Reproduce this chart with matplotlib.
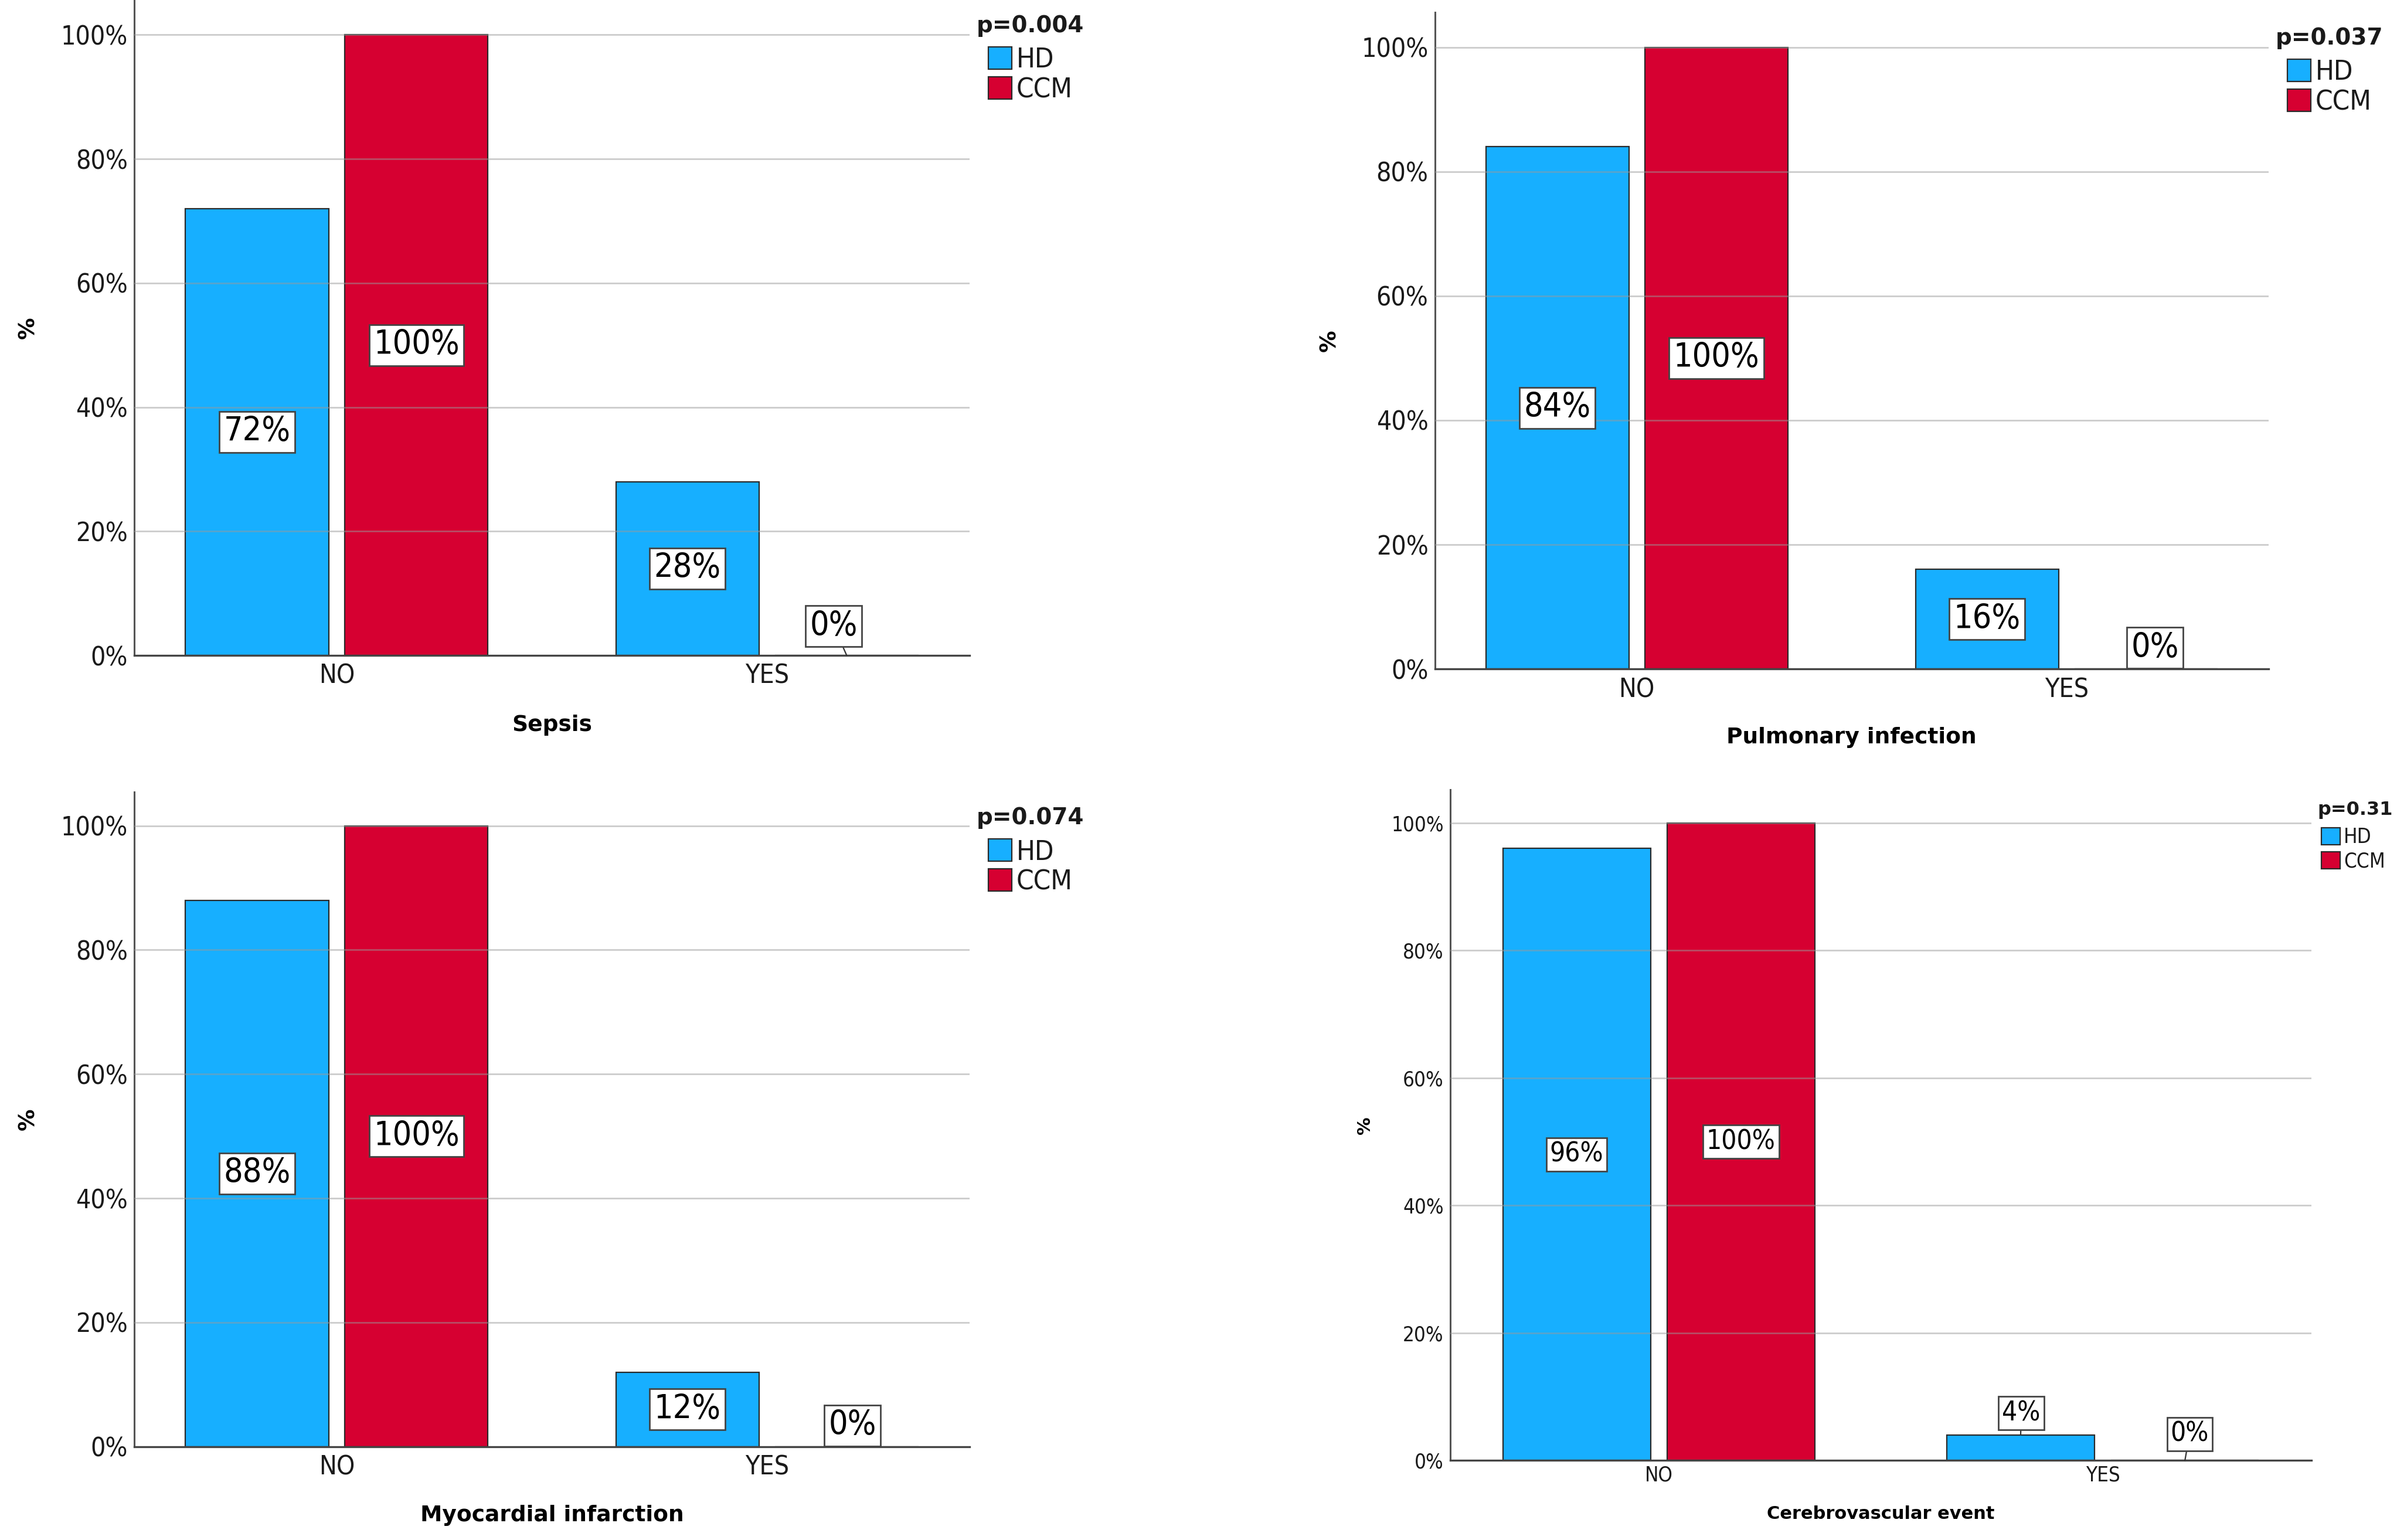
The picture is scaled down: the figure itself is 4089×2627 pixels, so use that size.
import matplotlib
matplotlib.use('Agg')
import matplotlib.pyplot as plt
import matplotlib.transforms as mtransforms
from matplotlib.patches import Patch
from matplotlib import font_manager as fm

# ---------------- data ----------------
categories = ['NO', 'YES']
groups = ['HD', 'CCM']
outcomes = ['Sepsis', 'Pulmonary infection', 'Myocardial infarction', 'Cerebrovascular event']
p_values = ['p=0.004', 'p=0.037', 'p=0.074', 'p=0.31']

hd_sepsis = [72, 28]
ccm_sepsis = [100, 0]
hd_pulmonary = [84, 16]
ccm_pulmonary = [100, 0]
hd_mi = [88, 12]
ccm_mi = [100, 0]
hd_cve = [96, 4]
ccm_cve = [100, 0]

yticks = [0, 20, 40, 60, 80, 100]
ytick_labels = ['0%', '20%', '40%', '60%', '80%', '100%']

# ---------------- fonts ----------------
def find_narrow():
    for f in fm.fontManager.ttflist:
        if f.name == 'Liberation Sans Narrow' and f.weight in (400, 'normal', 'regular') and f.style == 'normal':
            return f.fname
    for f in fm.fontManager.ttflist:
        if f.name == 'DejaVu Sans' and 'condensed' in str(f.stretch).lower() and f.style == 'normal' \
                and f.weight in (400, 'normal', 'regular', 'book'):
            return f.fname
    for f in fm.fontManager.ttflist:
        fn = f.fname.lower()
        if 'condensed' in fn and 'bold' not in fn and 'italic' not in fn and 'oblique' not in fn:
            return f.fname
    return None

NARROW_FILE = find_narrow()


def reg_font(size):
    if NARROW_FILE:
        return fm.FontProperties(fname=NARROW_FILE, size=size)
    return fm.FontProperties(family=['Roboto', 'DejaVu Sans'], size=size)


def bold_font(size):
    return fm.FontProperties(family=['DejaVu Sans'], weight='bold', size=size)


# ---------------- style ----------------
BLUE = '#17AFFF'
RED = '#D60031'
EDGE = '#2a2a2a'

W, H = 4089, 2627
fig = plt.figure(figsize=(W / 100, H / 100), dpi=100)

panels = [
    dict(hd=hd_sepsis, ccm=ccm_sepsis, rect=[0.0561, 0.5744, 0.3483, 0.4256], ytop=105.6,
         tick_fs=32, lab_fs=41, leg_fs=34, title_fs=28, axl_fs=27, xpad=10,
         small_off={('CCM', 1): (-22, 50)}, ylab_x=-0.127, xlab_y=-0.106,
         title_off=(12, -55), leg_off=(32, -80), leg_h=(0.85, 0.85), leg_sp=0.12),
    dict(hd=hd_pulmonary, ccm=ccm_pulmonary, rect=[0.5986, 0.5656, 0.3478, 0.4263], ytop=105.6,
         tick_fs=32, lab_fs=41, leg_fs=34, title_fs=28, axl_fs=27, xpad=10,
         small_off={('CCM', 1): (15, 36)}, ylab_x=-0.126, xlab_y=-0.104,
         title_off=(12, -55), leg_off=(32, -80), leg_h=(0.85, 0.85), leg_sp=0.12),
    dict(hd=hd_mi, ccm=ccm_mi, rect=[0.0561, 0.0606, 0.3483, 0.4250], ytop=105.4,
         tick_fs=32, lab_fs=41, leg_fs=34, title_fs=28, axl_fs=27, xpad=10,
         small_off={('CCM', 1): (10, 36)}, ylab_x=-0.127, xlab_y=-0.105,
         title_off=(12, -55), leg_off=(32, -80), leg_h=(0.85, 0.85), leg_sp=0.12),
    dict(hd=hd_cve, ccm=ccm_cve, rect=[0.6050, 0.0516, 0.3593, 0.4355], ytop=105.2,
         tick_fs=25, lab_fs=33, leg_fs=25, title_fs=23, axl_fs=22, xpad=6,
         small_off={('HD', 1): (1, 37), ('CCM', 1): (8, 45)}, ylab_x=-0.099, xlab_y=-0.080,
         title_off=(10, -43), leg_off=(17, -64), leg_h=(0.92, 0.9), leg_sp=0.21),
]

bar_w = 0.333
offsets = {'HD': -0.185, 'CCM': 0.185}
colors = {'HD': BLUE, 'CCM': RED}

for idx, cfg in enumerate(panels):
    ax = fig.add_axes(cfg['rect'])
    xs = list(range(len(categories)))
    series = {'HD': cfg['hd'], 'CCM': cfg['ccm']}
    for g in groups:
        ax.bar([x + offsets[g] for x in xs], series[g], width=bar_w, color=colors[g],
               edgecolor=EDGE, linewidth=1.6, zorder=2, label=g)

    ax.set_xlim(-0.47, 1.47)
    ax.set_ylim(0, cfg['ytop'])
    ax.set_yticks(yticks)
    ax.set_yticklabels(ytick_labels, fontproperties=reg_font(cfg['tick_fs']), color='#1a1a1a')
    ax.set_xticks(xs)
    ax.set_xticklabels(categories, fontproperties=reg_font(cfg['tick_fs']), color='#1a1a1a')
    ax.tick_params(axis='both', length=0)
    ax.tick_params(axis='y', pad=8)
    ax.tick_params(axis='x', pad=cfg['xpad'])

    for yv in yticks[1:]:
        ax.axhline(yv, color='#9a9a9a', alpha=0.5, lw=2.0, zorder=3)

    for s in ['top', 'right']:
        ax.spines[s].set_visible(False)
    ax.spines['left'].set_color('#555555')
    ax.spines['left'].set_linewidth(2.2)
    ax.spines['bottom'].set_color('#444444')
    ax.spines['bottom'].set_linewidth(2.4)
    ax.spines['bottom'].set_zorder(4)

    # value labels
    for g in groups:
        for i, v in enumerate(series[g]):
            x = i + offsets[g]
            bbox = dict(boxstyle='square,pad=0.13', fc='white', ec='#444444', lw=2.0)
            if (g, i) in cfg['small_off']:
                dx, dy = cfg['small_off'][(g, i)]
                ax.annotate(f'{v}%', xy=(x, v), xytext=(dx, dy), textcoords='offset pixels',
                            ha='center', va='center', fontproperties=reg_font(cfg['lab_fs']),
                            bbox=bbox, zorder=6,
                            arrowprops=dict(arrowstyle='-', color='#333333', lw=1.6,
                                            shrinkA=0, shrinkB=0))
            else:
                ax.annotate(f'{v}%', xy=(x, v / 2), ha='center', va='center',
                            fontproperties=reg_font(cfg['lab_fs']), bbox=bbox, zorder=6)

    ax.set_xlabel(outcomes[idx], fontproperties=bold_font(cfg['axl_fs']))
    ax.xaxis.set_label_coords(0.5, cfg['xlab_y'])
    ax.xaxis.label.set_va('center')
    ax.set_ylabel('%', fontproperties=bold_font(cfg['axl_fs']))
    ax.yaxis.set_label_coords(cfg['ylab_x'], 0.5)
    ax.yaxis.label.set_va('center')

    # legend title (p-value)
    tdx, tdy = cfg['title_off']
    ttrans = mtransforms.offset_copy(ax.transAxes, fig=fig, x=tdx, y=tdy, units='dots')
    ax.text(1, 1, p_values[idx], transform=ttrans, ha='left', va='baseline',
            fontproperties=bold_font(cfg['title_fs']), color='#1a1a1a')

    ldx, ldy = cfg['leg_off']
    ltrans = mtransforms.offset_copy(ax.transAxes, fig=fig, x=ldx, y=ldy, units='dots')
    handles = [Patch(facecolor=colors[g], edgecolor=EDGE, linewidth=1.6) for g in groups]
    leg = ax.legend(handles, groups, loc='upper left', bbox_to_anchor=(1, 1),
                    bbox_transform=ltrans, frameon=False, borderpad=0, borderaxespad=0,
                    handlelength=cfg['leg_h'][0], handleheight=cfg['leg_h'][1],
                    handletextpad=0.17, labelspacing=cfg['leg_sp'],
                    prop=reg_font(cfg['leg_fs']))
    for t in leg.get_texts():
        t.set_color('#1a1a1a')

fig.savefig('out.png', dpi=100, facecolor='white')
